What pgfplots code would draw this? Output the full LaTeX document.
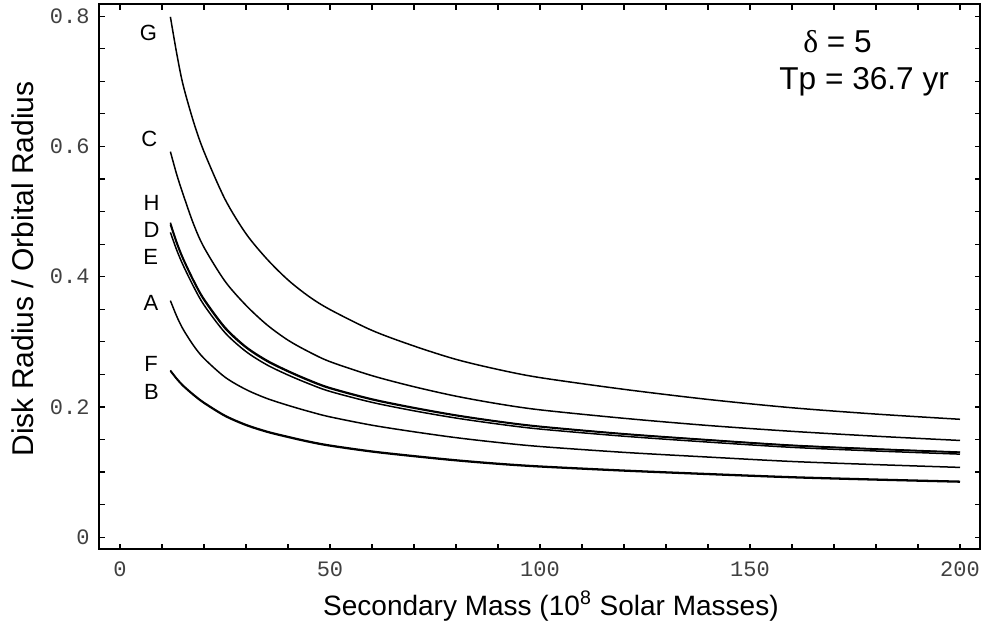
\documentclass[border=0pt]{standalone}
\usepackage{fontspec}
\setmainfont{Liberation Sans}
\setmonofont{Liberation Mono}
\newfontfamily\greekfont{Liberation Serif}
\usepackage{pgfplots}
\pgfplotsset{compat=1.18}

% curves: disk radius / orbital radius against secondary mass
\pgfplotstableread{
x     G      C      H      D      E      A      F      B
12    0.799  0.592  0.483  0.480  0.468  0.3632 0.2562 0.2550
13.5  0.743  0.557  0.4536 0.451  0.441  0.3393 0.2439 0.2427
15    0.695  0.527  0.429  0.427  0.418  0.3196 0.2333 0.2321
17.5  0.638  0.481  0.395  0.393  0.385  0.2943 0.2192 0.2180
20    0.592  0.445  0.366  0.364  0.3565 0.2745 0.2069 0.2057
25    0.519  0.393  0.3225 0.3205 0.314  0.2457 0.1870 0.1858
30    0.466  0.356  0.2925 0.291  0.285  0.2267 0.1729 0.1717
35    0.427  0.326  0.2715 0.270  0.2645 0.2129 0.1625 0.1613
40    0.395  0.3025 0.2555 0.2542 0.249  0.2024 0.1545 0.1533
45    0.3695 0.2845 0.2415 0.2402 0.2355 0.1930 0.1472 0.1460
50    0.3495 0.2695 0.2295 0.2283 0.2238 0.1847 0.1412 0.1400
60    0.3175 0.248  0.2122 0.2111 0.207  0.1719 0.1321 0.1309
70    0.2935 0.231  0.199  0.198  0.194  0.1618 0.1250 0.1238
80    0.273  0.2165 0.1875 0.1866 0.1829 0.1528 0.1186 0.1174
90    0.2575 0.2048 0.1780 0.1772 0.1737 0.1454 0.1133 0.1121
100   0.245  0.1955 0.1702 0.1694 0.166  0.1392 0.1091 0.1079
120   0.227  0.1825 0.1588 0.1581 0.155  0.1302 0.1028 0.1016
140   0.2115 0.1715 0.1496 0.149  0.146  0.1230 0.0975 0.0963
160   0.1987 0.1625 0.1412 0.1406 0.1379 0.1162 0.0926 0.0914
180   0.189  0.155  0.1355 0.135  0.1323 0.1114 0.0890 0.0878
200   0.181  0.1485 0.1306 0.1301 0.1275 0.1071 0.0858 0.0846
}\curves

\begin{document}
\begin{tikzpicture}
\begin{axis}[
    scale only axis,
    width=440.5bp, height=272.5bp,
    xmin=-5, xmax=204.8,
    ymin=-0.0184, ymax=0.8187,
    xtick={0,50,100,150,200},
    xticklabels={0,50,100,150,200},
    ytick={0,0.2,0.4,0.6,0.8},
    yticklabels={0,0.2,0.4,0.6,0.8},
    minor x tick num=4,
    minor y tick num=3,
    tick align=inside,
    major tick length=2.8bp,
    minor tick length=2.8bp,
    tick style={black, line width=0.6bp},
    axis line style={line width=1bp},
    tick label style={font=\fontsize{11bp}{13bp}\ttfamily, text=black!75},
    xticklabel style={yshift=-2.6bp},
    yticklabel style={xshift=-1.2bp},
    clip=false,
    cycle list={{black,solid}},
    every axis plot/.append style={black, solid, line width=0.75bp, smooth, no markers},
]
\addplot table[x=x, y=G] {\curves};
\addplot table[x=x, y=C] {\curves};
\addplot table[x=x, y=H] {\curves};
\addplot table[x=x, y=D] {\curves};
\addplot table[x=x, y=E] {\curves};
\addplot table[x=x, y=A] {\curves};
\addplot table[x=x, y=F] {\curves};
\addplot table[x=x, y=B] {\curves};

\begin{scope}[every node/.style={font=\fontsize{11bp}{13bp}\selectfont}]
\node at (axis cs:6.8,0.774) {G};
\node at (axis cs:7.0,0.611) {C};
\node at (axis cs:7.5,0.5126) {H};
\node at (axis cs:7.5,0.4716) {D};
\node at (axis cs:7.3,0.4306) {E};
\node at (axis cs:7.4,0.3597) {A};
\node at (axis cs:7.4,0.2653) {F};
\node at (axis cs:7.5,0.2232) {B};
\end{scope}

\node[anchor=base west, inner sep=0pt, font=\fontsize{15.8bp}{18bp}\selectfont]
    at (axis cs:162.6,0.7435) {{\greekfont δ} = 5};
\node[anchor=base west, inner sep=0pt, font=\fontsize{15.8bp}{18bp}\selectfont]
    at (axis cs:156.9,0.6877) {Tp = 36.7 yr};

\node[anchor=base, inner sep=0pt, font=\fontsize{14bp}{16bp}\selectfont]
    at (axis cs:102.6,-0.1198) {Secondary Mass (10\textsuperscript{8} Solar Masses)};
\node[anchor=base, rotate=90, inner sep=0pt, font=\fontsize{15bp}{17bp}\selectfont]
    at (axis cs:-20.5,0.412) {Disk Radius / Orbital Radius};

\coordinate (bbsw) at (axis cs:-28.571,-0.142857);
\coordinate (bbne) at (axis cs:206.429,0.824885);
\end{axis}
\pgfresetboundingbox
\path[use as bounding box] (bbsw) rectangle (bbne);
\end{tikzpicture}
\end{document}
